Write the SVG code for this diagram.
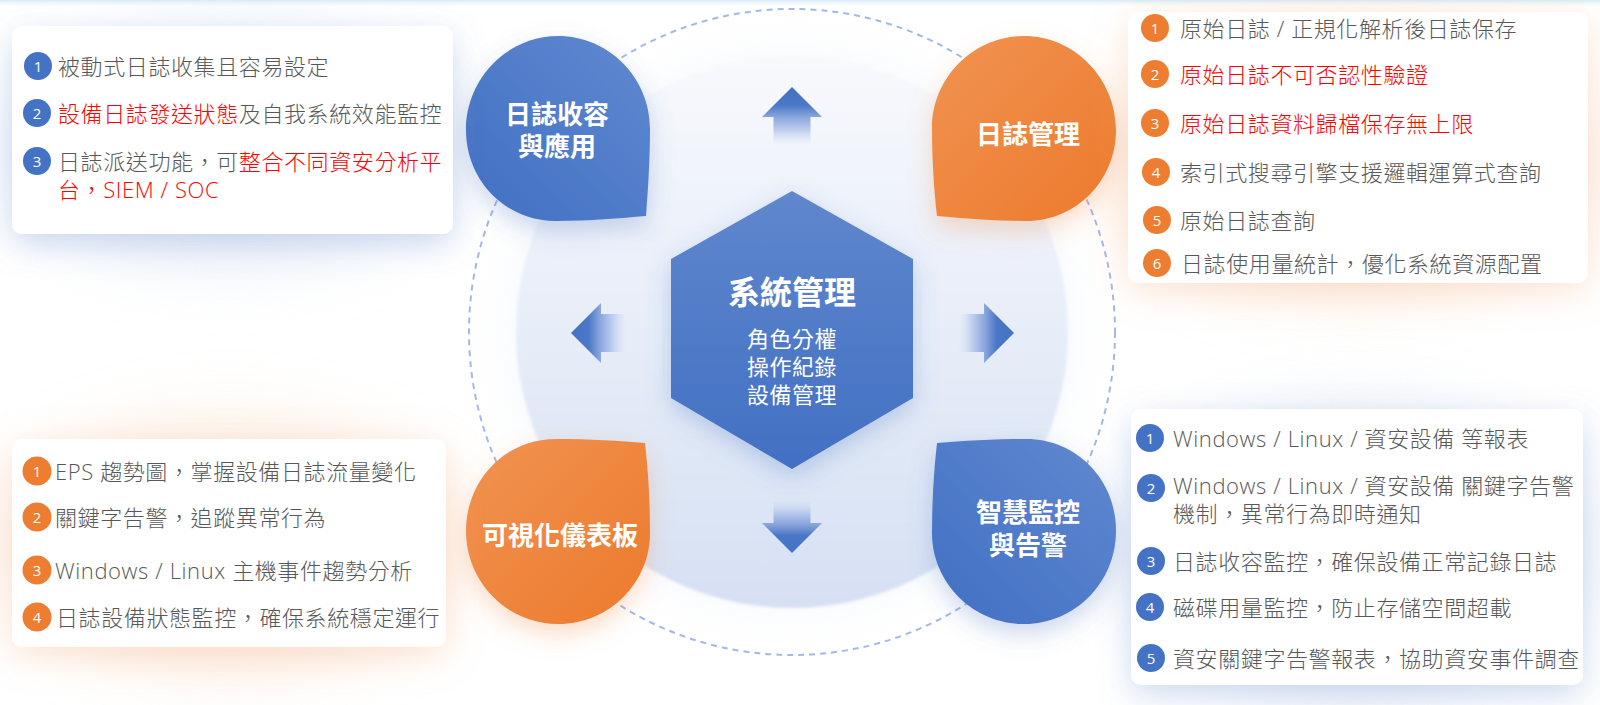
<svg xmlns="http://www.w3.org/2000/svg" width="1600" height="705" viewBox="0 0 1600 705">
<defs>
<style>
.t{font-family:"Open Sans","Noto Sans CJK TC",sans-serif;font-size:22px;font-weight:300;fill:#585858;letter-spacing:0.6px;dominant-baseline:central}
.r{fill:#ff0000}
.n{font-family:"Open Sans","Noto Sans",sans-serif;font-size:15px;fill:#ffffff;text-anchor:middle;dominant-baseline:central}
.bt{font-family:"Noto Sans CJK TC",sans-serif;font-weight:bold;font-size:26px;fill:#ffffff;text-anchor:middle;dominant-baseline:central}
.st{font-family:"Noto Sans CJK TC",sans-serif;font-size:22px;fill:#ffffff;text-anchor:middle;dominant-baseline:central;letter-spacing:0.5px}
.panel{fill:#ffffff}
.cb{fill:#4472c4}
.co{fill:#ed7d31}
</style>
<linearGradient id="topStrip" x1="0" y1="0" x2="0" y2="1">
<stop offset="0" stop-color="#d6ebf8"/><stop offset="1" stop-color="#ffffff" stop-opacity="0"/>
</linearGradient>
<linearGradient id="circFill" x1="0" y1="0" x2="0" y2="1">
<stop offset="0" stop-color="#f7f9fd"/><stop offset="0.5" stop-color="#e7edf8"/><stop offset="1" stop-color="#d6e0f3"/>
</linearGradient>
<radialGradient id="halo" cx="0.5" cy="0.5" r="0.5">
<stop offset="0.7" stop-color="#e3eaf7" stop-opacity="0.6"/><stop offset="1" stop-color="#ffffff" stop-opacity="0"/>
</radialGradient>
<linearGradient id="blueG" x1="1" y1="0" x2="0" y2="1">
<stop offset="0" stop-color="#6089d0"/><stop offset="1" stop-color="#416fc3"/>
</linearGradient>
<linearGradient id="orangeG" x1="0" y1="0" x2="1" y2="1">
<stop offset="0" stop-color="#f19352"/><stop offset="1" stop-color="#ec7a2c"/>
</linearGradient>
<linearGradient id="hexG" x1="0" y1="0" x2="0" y2="1">
<stop offset="0" stop-color="#5f87cd"/><stop offset="1" stop-color="#4270c3"/>
</linearGradient>
<linearGradient id="aUp" gradientUnits="userSpaceOnUse" x1="0" y1="87" x2="0" y2="147">
<stop offset="0" stop-color="#4472c4"/><stop offset="0.3" stop-color="#4a77c6"/><stop offset="0.5" stop-color="#8aa6dc"/><stop offset="0.75" stop-color="#c6d4f0"/><stop offset="1" stop-color="#e8eef9" stop-opacity="0"/>
</linearGradient>
<linearGradient id="aDown" gradientUnits="userSpaceOnUse" x1="0" y1="553" x2="0" y2="495">
<stop offset="0" stop-color="#4472c4"/><stop offset="0.3" stop-color="#4a77c6"/><stop offset="0.5" stop-color="#8aa6dc"/><stop offset="0.75" stop-color="#c6d4f0"/><stop offset="1" stop-color="#e8eef9" stop-opacity="0"/>
</linearGradient>
<linearGradient id="aLeft" gradientUnits="userSpaceOnUse" x1="571" y1="0" x2="629" y2="0">
<stop offset="0" stop-color="#4472c4"/><stop offset="0.3" stop-color="#4a77c6"/><stop offset="0.5" stop-color="#8aa6dc"/><stop offset="0.75" stop-color="#c6d4f0"/><stop offset="1" stop-color="#e8eef9" stop-opacity="0"/>
</linearGradient>
<linearGradient id="aRight" gradientUnits="userSpaceOnUse" x1="1014" y1="0" x2="956" y2="0">
<stop offset="0" stop-color="#4472c4"/><stop offset="0.3" stop-color="#4a77c6"/><stop offset="0.5" stop-color="#8aa6dc"/><stop offset="0.75" stop-color="#c6d4f0"/><stop offset="1" stop-color="#e8eef9" stop-opacity="0"/>
</linearGradient>
<filter id="shBlue" x="-30%" y="-30%" width="160%" height="170%">
<feDropShadow dx="0" dy="10" stdDeviation="16" flood-color="#5a80c8" flood-opacity="0.28"/>
</filter>
<filter id="shOrange" x="-30%" y="-30%" width="160%" height="170%">
<feDropShadow dx="0" dy="8" stdDeviation="18" flood-color="#f2a06a" flood-opacity="0.28"/>
</filter>
<filter id="shBlobB" x="-30%" y="-30%" width="160%" height="170%">
<feDropShadow dx="0" dy="10" stdDeviation="12" flood-color="#4a72c0" flood-opacity="0.28"/>
</filter>
<filter id="shBlobO" x="-30%" y="-30%" width="160%" height="170%">
<feDropShadow dx="0" dy="10" stdDeviation="12" flood-color="#ee8a48" flood-opacity="0.3"/>
</filter>
<filter id="shHex" x="-30%" y="-30%" width="160%" height="160%">
<feDropShadow dx="0" dy="8" stdDeviation="12" flood-color="#4a72c0" flood-opacity="0.3"/>
</filter>
<filter id="soft" x="-10%" y="-10%" width="120%" height="120%">
<feGaussianBlur stdDeviation="1.5"/>
</filter>
<filter id="bigBlur" x="-50%" y="-50%" width="200%" height="200%">
<feGaussianBlur stdDeviation="30"/>
</filter>
</defs>

<rect width="1600" height="705" fill="#ffffff"/>
<rect width="1600" height="8" fill="url(#topStrip)"/>

<g id="background-glows">
<ellipse cx="230" cy="150" rx="230" ry="120" fill="#dfe7f6" opacity="0.6" filter="url(#bigBlur)"/>
<ellipse cx="1350" cy="160" rx="250" ry="140" fill="#fbe1cf" opacity="0.55" filter="url(#bigBlur)"/>
<ellipse cx="230" cy="545" rx="230" ry="130" fill="#fbe1cf" opacity="0.55" filter="url(#bigBlur)"/>
<ellipse cx="1355" cy="550" rx="240" ry="150" fill="#dfe7f6" opacity="0.6" filter="url(#bigBlur)"/>
</g>

<g id="ring">
<circle cx="792" cy="332" r="330" fill="url(#halo)"/>
<circle cx="792" cy="332" r="276" fill="url(#circFill)" filter="url(#soft)"/>
<circle cx="792" cy="332" r="323" fill="none" stroke="#a3b9e4" stroke-width="2" stroke-dasharray="6 5"/>
</g>

<g id="connectors">
<path d="M792 87 L822 117 L810.5 117 L810.5 147 L773.5 147 L773.5 117 L762 117 Z" fill="url(#aUp)"/>
<path d="M792 553 L822 523 L810.5 523 L810.5 495 L773.5 495 L773.5 523 L762 523 Z" fill="url(#aDown)"/>
<path d="M571 333 L601 303 L601 314 L629 314 L629 352 L601 352 L601 363 Z" fill="url(#aLeft)"/>
<path d="M1014 333 L984 303 L984 314 L956 314 L956 352 L984 352 L984 363 Z" fill="url(#aRight)"/>
</g>

<g id="center-hex">
<polygon points="792,191 913,259 913,398 792,469 671,398 671,259" fill="url(#hexG)" filter="url(#shHex)"/>
<text x="792" y="290" class="bt" style="font-size:32px">系統管理</text>
<text class="st"><tspan x="792" y="337">角色分權</tspan><tspan x="792" y="365">操作紀錄</tspan><tspan x="792" y="393">設備管理</tspan></text>
</g>

<g id="node-collect">
<path d="M646 216 C620 218 590 221 556 221 C505 221 466 180 466 130 C466 79 507 36 558 36 C609 36 650 78 650 128 C650 160 648 190 646 216 Z" fill="url(#blueG)" filter="url(#shBlobB)"/>
<text class="bt"><tspan x="557" y="112">日誌收容</tspan><tspan x="557" y="144">與應用</tspan></text>
</g>

<g id="node-manage">
<path d="M937 216 C963 218 992 221 1026 221 C1077 221 1116 180 1116 130 C1116 79 1075 36 1024 36 C973 36 932 78 932 128 C932 160 934 190 937 216 Z" fill="url(#orangeG)" filter="url(#shBlobO)"/>
<text x="1028" y="132" class="bt">日誌管理</text>
</g>

<g id="node-dashboard">
<path d="M645 443 C620 441 590 439 556 439 C505 439 466 480 466 531 C466 582 507 624 558 624 C609 624 650 583 650 533 C650 500 648 470 645 443 Z" fill="url(#orangeG)" filter="url(#shBlobO)"/>
<text x="560" y="533" class="bt">可視化儀表板</text>
</g>

<g id="node-monitor">
<path d="M937 443 C962 441 992 439 1026 439 C1077 439 1116 480 1116 531 C1116 582 1075 624 1024 624 C973 624 932 583 932 533 C932 500 934 470 937 443 Z" fill="url(#blueG)" filter="url(#shBlobB)"/>
<text class="bt"><tspan x="1028" y="510">智慧監控</tspan><tspan x="1028" y="543">與告警</tspan></text>
</g>

<g id="panel-collect">
<rect x="12" y="26" width="441" height="208" rx="10" class="panel" filter="url(#shBlue)"/>
<circle cx="38" cy="66" r="14" class="cb"/><text x="38" y="66" class="n">1</text>
<text x="58" y="66" class="t">被動式日誌收集且容易設定</text>
<circle cx="37" cy="113" r="14" class="cb"/><text x="37" y="113" class="n">2</text>
<text x="58" y="113" class="t"><tspan class="r">設備日誌發送狀態</tspan>及自我系統效能監控</text>
<circle cx="37" cy="161" r="14" class="cb"/><text x="37" y="161" class="n">3</text>
<text class="t"><tspan x="58" y="161">日誌派送功能，可</tspan><tspan class="r">整合不同資安分析平</tspan><tspan x="58" y="189" class="r">台，SIEM / SOC</tspan></text>
</g>

<g id="panel-manage">
<rect x="1128" y="12" width="460" height="271" rx="10" class="panel" filter="url(#shOrange)"/>
<circle cx="1155" cy="28" r="14" class="co"/><text x="1155" y="28" class="n">1</text>
<text x="1180" y="28" class="t">原始日誌 / 正規化解析後日誌保存</text>
<circle cx="1155" cy="74" r="14" class="co"/><text x="1155" y="74" class="n">2</text>
<text x="1180" y="74" class="t r">原始日誌不可否認性驗證</text>
<circle cx="1155" cy="123" r="14" class="co"/><text x="1155" y="123" class="n">3</text>
<text x="1180" y="123" class="t r">原始日誌資料歸檔保存無上限</text>
<circle cx="1156" cy="172" r="14" class="co"/><text x="1156" y="172" class="n">4</text>
<text x="1180" y="172" class="t">索引式搜尋引擎支援邏輯運算式查詢</text>
<circle cx="1157" cy="220" r="14" class="co"/><text x="1157" y="220" class="n">5</text>
<text x="1180" y="220" class="t">原始日誌查詢</text>
<circle cx="1157" cy="263" r="14" class="co"/><text x="1157" y="263" class="n">6</text>
<text x="1181" y="263" class="t">日誌使用量統計，優化系統資源配置</text>
</g>

<g id="panel-dashboard">
<rect x="12" y="439" width="434" height="208" rx="10" class="panel" filter="url(#shOrange)"/>
<circle cx="37" cy="471" r="14.5" class="co"/><text x="37" y="471" class="n">1</text>
<text x="55" y="471" class="t">EPS 趨勢圖，掌握設備日誌流量變化</text>
<circle cx="37" cy="517" r="14.5" class="co"/><text x="37" y="517" class="n">2</text>
<text x="55" y="517" class="t">關鍵字告警，追蹤異常行為</text>
<circle cx="37" cy="570" r="14.5" class="co"/><text x="37" y="570" class="n">3</text>
<text x="55" y="570" class="t">Windows / Linux 主機事件趨勢分析</text>
<circle cx="37" cy="617" r="14.5" class="co"/><text x="37" y="617" class="n">4</text>
<text x="56" y="617" class="t">日誌設備狀態監控，確保系統穩定運行</text>
</g>

<g id="panel-monitor">
<rect x="1131" y="409" width="452" height="276" rx="10" class="panel" filter="url(#shBlue)"/>
<circle cx="1150" cy="438" r="14" class="cb"/><text x="1150" y="438" class="n">1</text>
<text x="1173" y="438" class="t">Windows / Linux / 資安設備 等報表</text>
<circle cx="1151" cy="488" r="14" class="cb"/><text x="1151" y="488" class="n">2</text>
<text class="t"><tspan x="1173" y="485">Windows / Linux / 資安設備 關鍵字告警</tspan><tspan x="1173" y="513">機制，異常行為即時通知</tspan></text>
<circle cx="1151" cy="561" r="14" class="cb"/><text x="1151" y="561" class="n">3</text>
<text x="1173" y="561" class="t">日誌收容監控，確保設備正常記錄日誌</text>
<circle cx="1150" cy="607" r="14" class="cb"/><text x="1150" y="607" class="n">4</text>
<text x="1173" y="607" class="t">磁碟用量監控，防止存儲空間超載</text>
<circle cx="1151" cy="658" r="14" class="cb"/><text x="1151" y="658" class="n">5</text>
<text x="1173" y="658" class="t">資安關鍵字告警報表，協助資安事件調查</text>
</g>
</svg>
